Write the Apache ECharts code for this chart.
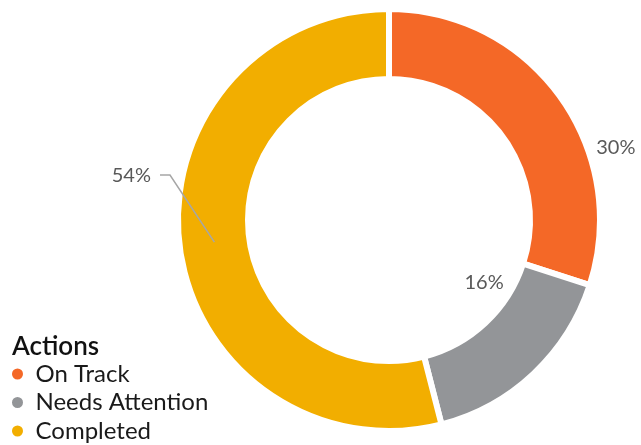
<!DOCTYPE html>
<html><head><meta charset="utf-8">
<script src="https://cdn.jsdelivr.net/npm/echarts@6/dist/echarts.min.js"></script>
<style>html,body{margin:0;padding:0;background:#fff}#c{width:641px;height:445px}</style>
</head><body><div id="c"></div>
<script>
const categories = ['On Track', 'Needs Attention', 'Completed'];
const values = [30, 16, 54];
const colors = ['#F46827', '#939598', '#F2AE00'];
const legendTitle = 'Actions';

const CX = 389, CY = 220, R_IN = 141, R_OUT = 211;
// label anchors (polar, degrees clockwise from 12 o'clock)
const labelPolar = [
  {ang: 72.4, r: 238},
  {ang: 123.5, r: 114},
  null
];
function polar(ang, r) {
  const a = ang * Math.PI / 180;
  return [CX + r * Math.sin(a), CY - r * Math.cos(a)];
}
const total = values.reduce((a, b) => a + b, 0);
const chart = echarts.init(document.getElementById('c'));

const ringData = categories.map((n, i) => ({
  name: n, value: values[i], itemStyle: {color: colors[i]}
}));
const labelData = categories.map((n, i) => ({
  name: n, value: values[i],
  itemStyle: {color: 'rgba(0,0,0,0)'},
  labelLine: {show: i === 2, lineStyle: {color: '#A6A6A6', width: 1.5}}
}));

chart.setOption({
  animation: false,
  title: {
    text: legendTitle, left: 12, top: 334, padding: 0,
    textStyle: {fontFamily: 'Lato', fontSize: 26, fontWeight: 600, color: '#111'}
  },
  legend: {
    orient: 'vertical', left: 10, top: 362, padding: 0,
    icon: 'circle', itemWidth: 26, itemHeight: 13, itemGap: 4.5,
    data: categories,
    textStyle: {fontFamily: 'Lato', fontSize: 24, color: '#1a1a1a', lineHeight: 24}
  },
  series: [{
    type: 'pie',
    center: [CX, CY],
    radius: [R_IN, R_OUT],
    startAngle: 90,
    clockwise: true,
    silent: true,
    itemStyle: {borderColor: '#fff', borderWidth: 6},
    label: {show: false},
    labelLine: {show: false},
    data: ringData
  }, {
    type: 'pie',
    z: 5,
    center: [CX, CY],
    radius: [R_IN, R_OUT],
    startAngle: 90,
    clockwise: true,
    silent: true,
    legendHoverLink: false,
    itemStyle: {borderWidth: 0},
    label: {
      show: true, position: 'outside', overflow: 'none',
      formatter: '{d}%',
      fontFamily: 'Lato', fontSize: 20, color: '#595959'
    },
    labelLayout: function (p) {
      const i = p.dataIndex;
      if (i === 2) {
        let before = 0; for (let k = 0; k < i; k++) before += values[k];
        const mid = (before + values[i] / 2) / total * 360;
        const start = polar(mid, (R_IN + R_OUT) / 2);
        return {x: 151, y: 176, align: 'right', verticalAlign: 'middle', width: 60,
          labelLinePoints: [start, [170, 175], [160, 175]]};
      }
      const pt = polar(labelPolar[i].ang, labelPolar[i].r);
      return {x: pt[0], y: pt[1], align: 'center', verticalAlign: 'middle', width: 60};
    },
    data: labelData
  }]
});
</script></body></html>
